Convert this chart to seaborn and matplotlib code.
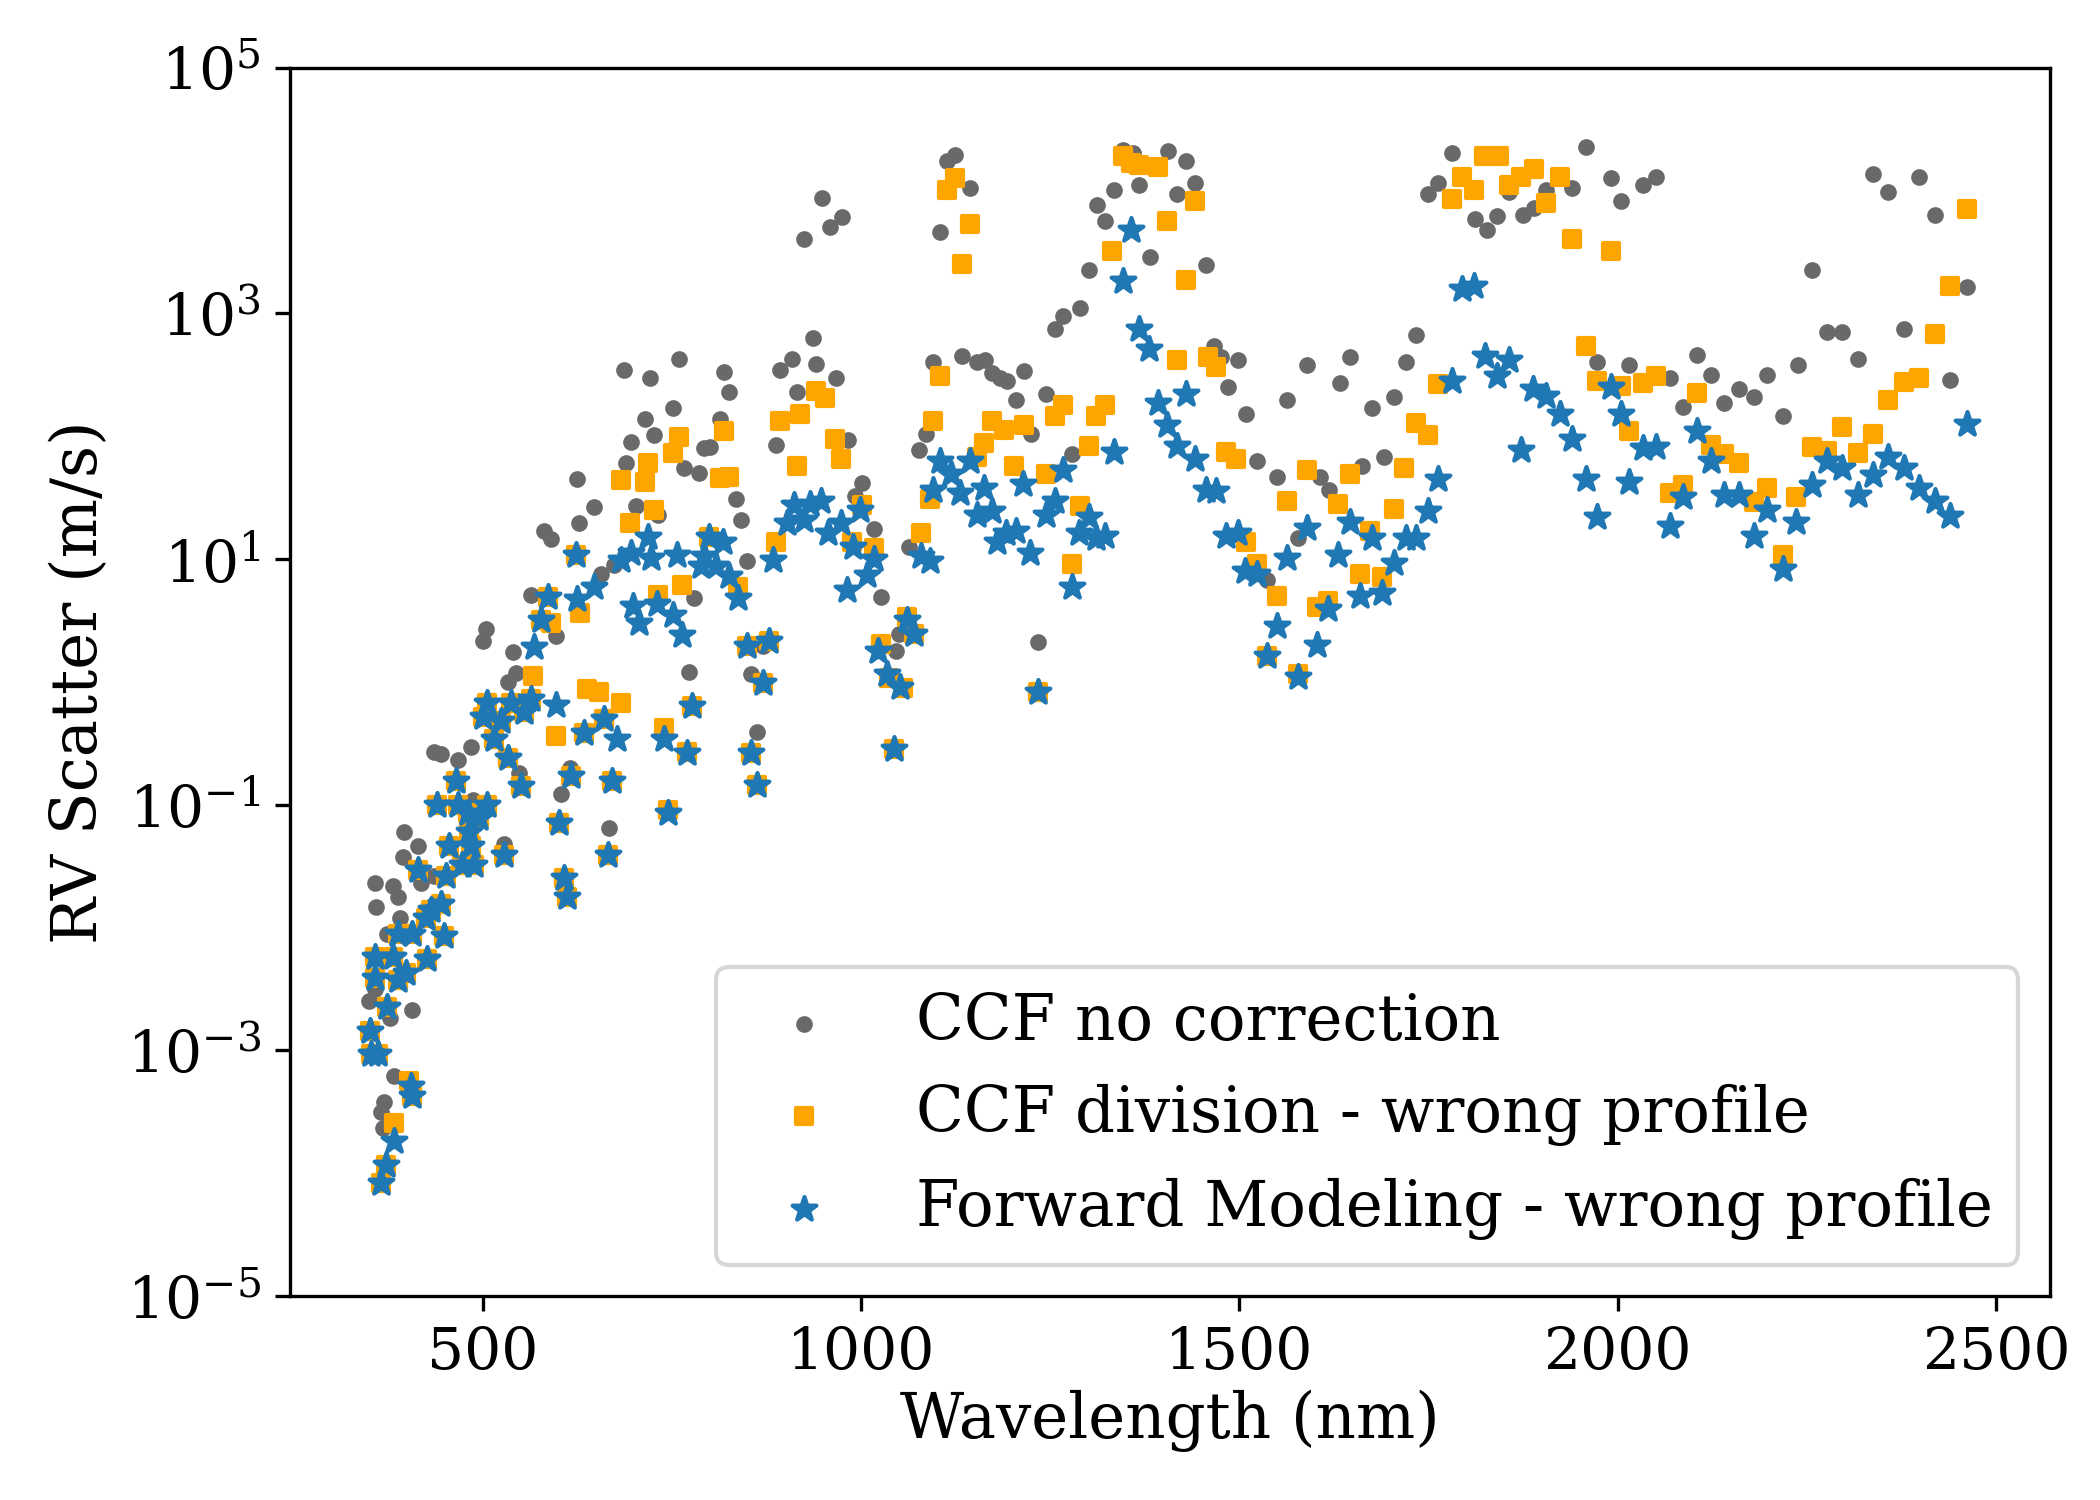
import numpy as np
import matplotlib
matplotlib.use("Agg")
import matplotlib.pyplot as plt
import seaborn as sns
from matplotlib.ticker import NullLocator, FixedLocator

# (wavelength nm, log10 of RV scatter in m/s)
ccf_points = [
    (350, -2.60), (357, -2.50), (357, -1.64), (359, -1.83), (366, -3.50), (368, -3.63),
    (370, -3.42), (374, -2.05), (377, -2.74), (381, -1.66), (383, -3.21), (388, -1.75),
    (390, -1.92), (394, -1.43), (396, -1.22), (407, -2.67), (414, -1.34), (418, -1.64),
    (436, -1.58), (436, -0.57), (445, -0.59), (467, -0.64), (484, -0.53), (487, -0.96),
    (500, 0.33), (504, 0.43), (528, -1.32), (533, 0.00), (540, 0.24), (544, 0.07),
    (548, -0.74), (564, 0.71), (581, 1.23), (590, 1.16), (597, 0.37), (603, -0.91),
    (616, -0.70), (624, 1.65), (627, 1.29), (647, 1.42), (656, 0.88), (667, -1.19),
    (674, 0.95), (687, 2.54), (689, 1.78), (696, 1.95), (703, 1.43), (714, 2.14),
    (721, 2.47), (727, 2.01), (732, 1.36), (752, 2.23), (759, 2.63), (766, 1.74),
    (772, 0.08), (779, 0.68), (786, 1.70), (792, 1.90), (801, 1.91), (813, 2.14),
    (819, 2.52), (826, 2.36), (835, 1.49), (842, 1.32), (849, 0.98), (855, 0.06),
    (862, -0.41), (871, 0.29), (887, 1.93), (893, 2.54), (909, 2.63), (916, 2.36),
    (925, 3.60), (936, 2.80), (940, 2.59), (948, 3.94), (959, 3.70), (967, 2.47),
    (975, 3.78), (983, 1.97), (992, 1.51), (1001, 1.62), (1017, 1.24), (1026, 0.69),
    (1046, 0.25), (1050, 0.39), (1064, 1.10), (1077, 1.89), (1086, 2.02), (1095, 2.60),
    (1104, 3.66), (1113, 4.24), (1124, 4.29), (1133, 2.65), (1144, 4.02), (1153, 2.60),
    (1164, 2.62), (1173, 2.51), (1184, 2.47), (1193, 2.45), (1205, 2.29), (1216, 2.53),
    (1225, 2.02), (1234, 0.32), (1245, 2.34), (1256, 2.87), (1267, 2.98), (1279, 1.85),
    (1290, 3.04), (1301, 3.35), (1312, 3.88), (1323, 3.75), (1335, 4.00), (1346, 4.33),
    (1359, 4.30), (1368, 4.04), (1382, 3.46), (1406, 4.32), (1418, 3.97), (1429, 4.24),
    (1442, 4.06), (1456, 3.39), (1467, 2.73), (1476, 2.64), (1485, 2.40), (1498, 2.62),
    (1509, 2.18), (1523, 1.80), (1536, 0.83), (1550, 1.67), (1563, 2.29), (1577, 1.17),
    (1590, 2.58), (1606, 1.67), (1619, 1.56), (1633, 2.43), (1646, 2.64), (1662, 1.76),
    (1675, 2.23), (1691, 1.83), (1704, 2.32), (1720, 2.60), (1733, 2.82), (1749, 3.97),
    (1763, 4.06), (1781, 4.30), (1794, 4.10), (1812, 3.77), (1828, 3.68), (1841, 3.79),
    (1857, 3.99), (1875, 3.80), (1890, 3.86), (1906, 4.00), (1940, 4.02), (1958, 4.35),
    (1973, 2.60), (1991, 4.10), (2004, 3.91), (2015, 2.58), (2033, 4.04), (2051, 4.11),
    (2069, 2.47), (2087, 2.24), (2105, 2.66), (2123, 2.50), (2141, 2.27), (2160, 2.38),
    (2180, 2.32), (2198, 2.50), (2218, 2.16), (2239, 2.58), (2257, 3.35), (2277, 2.85),
    (2297, 2.85), (2318, 2.63), (2338, 4.13), (2358, 3.99), (2379, 2.87), (2399, 4.11),
    (2420, 3.80), (2440, 2.46), (2462, 3.21),
]

div_points = [
    (351, -2.84), (352, -3.03), (357, -2.24), (357, -2.41), (361, -3.03), (366, -4.08),
    (372, -3.93), (374, -2.65), (381, -2.24), (383, -3.59), (388, -2.43), (388, -2.05),
    (398, -2.37), (403, -3.25), (407, -3.37), (407, -2.05), (414, -1.53), (425, -1.92),
    (427, -2.26), (432, -1.86), (440, -1.00), (445, -1.81), (449, -2.07), (451, -1.58),
    (456, -1.34), (465, -0.81), (467, -1.00), (473, -1.49), (480, -1.07), (482, -1.22),
    (484, -1.34), (489, -1.49), (495, -1.11), (500, -0.29), (506, -1.00), (506, -0.17),
    (515, -0.47), (524, -0.32), (528, -1.41), (533, -0.62), (537, -0.17), (550, -0.85),
    (555, -0.25), (564, -0.14), (566, 0.05), (577, 0.50), (586, 0.69), (590, 0.48),
    (597, -0.44), (601, -1.15), (608, -1.60), (612, -1.75), (617, -0.77), (623, 1.03),
    (628, 0.56), (634, -0.42), (638, -0.06), (654, -0.08), (660, -0.30), (665, -1.41),
    (671, -0.81), (683, 1.64), (683, -0.17), (694, 1.29), (714, 1.63), (718, 1.78),
    (727, 1.40), (732, 0.71), (739, -0.38), (745, -1.04), (752, 1.86), (759, 1.99),
    (763, 0.79), (770, -0.57), (777, -0.20), (799, 1.18), (813, 1.66), (819, 2.04),
    (826, 1.67), (837, 0.77), (849, 0.29), (855, -0.58), (862, -0.84), (871, -0.01),
    (878, 0.33), (887, 1.14), (893, 2.12), (916, 1.76), (920, 2.18), (940, 2.37),
    (952, 2.31), (965, 1.98), (974, 1.81), (988, 1.14), (1001, 1.44), (1017, 1.09),
    (1026, 0.31), (1037, 0.03), (1044, -0.55), (1055, -0.05), (1061, 0.53), (1070, 0.39),
    (1079, 1.21), (1091, 1.49), (1095, 2.12), (1104, 2.49), (1113, 4.00), (1124, 4.10),
    (1133, 3.40), (1144, 3.73), (1153, 1.83), (1162, 1.94), (1173, 2.12), (1189, 2.05),
    (1202, 1.76), (1216, 2.09), (1234, -0.08), (1245, 1.69), (1256, 2.16), (1267, 2.25),
    (1279, 0.96), (1290, 1.43), (1301, 1.92), (1310, 2.16), (1323, 2.25), (1332, 3.51),
    (1346, 4.28), (1357, 4.22), (1368, 4.21), (1393, 4.19), (1404, 3.75), (1418, 2.62),
    (1429, 3.27), (1442, 3.91), (1458, 2.64), (1469, 2.56), (1482, 1.87), (1496, 1.81),
    (1509, 1.14), (1523, 0.96), (1536, 0.21), (1550, 0.70), (1563, 1.47), (1577, 0.06),
    (1590, 1.72), (1603, 0.61), (1617, 0.66), (1630, 1.45), (1646, 1.69), (1659, 0.88),
    (1673, 1.23), (1689, 0.85), (1704, 1.41), (1718, 1.74), (1733, 2.11), (1749, 2.01),
    (1763, 2.42), (1781, 3.93), (1794, 4.11), (1810, 4.00), (1823, 4.28), (1843, 4.28),
    (1857, 4.04), (1872, 4.11), (1890, 4.17), (1906, 3.90), (1924, 4.11), (1940, 3.60),
    (1958, 2.73), (1973, 2.45), (1991, 3.51), (2004, 2.41), (2015, 2.04), (2033, 2.43),
    (2051, 2.49), (2069, 1.54), (2087, 1.60), (2105, 2.35), (2123, 1.93), (2141, 1.85),
    (2160, 1.78), (2180, 1.46), (2198, 1.58), (2218, 1.03), (2236, 1.50), (2257, 1.91),
    (2277, 1.88), (2297, 2.07), (2318, 1.86), (2338, 2.02), (2358, 2.29), (2379, 2.44),
    (2399, 2.47), (2420, 2.83), (2440, 3.22), (2462, 3.85),
]

fm_points = [
    (351, -2.84), (352, -3.03), (357, -2.24), (357, -2.41), (361, -3.03), (366, -4.08),
    (372, -3.93), (374, -2.65), (381, -2.24), (383, -3.74), (388, -2.43), (388, -2.05),
    (398, -2.37), (405, -3.29), (407, -3.37), (407, -2.05), (414, -1.53), (425, -1.92),
    (427, -2.26), (432, -1.86), (440, -1.00), (445, -1.81), (449, -2.07), (451, -1.58),
    (456, -1.34), (465, -0.81), (467, -1.00), (473, -1.49), (480, -1.07), (482, -1.22),
    (484, -1.34), (489, -1.49), (495, -1.11), (500, -0.29), (506, -1.00), (506, -0.17),
    (515, -0.47), (524, -0.32), (528, -1.41), (533, -0.62), (537, -0.17), (550, -0.85),
    (555, -0.25), (564, -0.14), (568, 0.28), (577, 0.50), (586, 0.69), (597, -0.19),
    (601, -1.15), (608, -1.60), (612, -1.75), (617, -0.77), (623, 1.03), (625, 0.67),
    (634, -0.42), (647, 0.77), (660, -0.30), (665, -1.41), (671, -0.81), (678, -0.47),
    (683, 0.99), (696, 1.05), (698, 0.62), (707, 0.48), (718, 1.18), (722, 1.01),
    (730, 0.63), (739, -0.47), (745, -1.07), (752, 0.54), (757, 1.03), (763, 0.38),
    (770, -0.58), (777, -0.20), (788, 0.94), (792, 1.02), (799, 1.18), (808, 0.94),
    (817, 1.14), (826, 0.86), (837, 0.68), (849, 0.29), (855, -0.58), (862, -0.84),
    (871, -0.01), (878, 0.33), (884, 0.99), (902, 1.29), (911, 1.44), (925, 1.32),
    (932, 1.45), (947, 1.47), (956, 1.21), (974, 1.29), (981, 0.75), (990, 1.10),
    (999, 1.40), (1008, 0.87), (1017, 1.00), (1023, 0.25), (1035, 0.06), (1044, -0.55),
    (1052, -0.04), (1061, 0.50), (1070, 0.39), (1079, 1.02), (1091, 0.98), (1095, 1.56),
    (1104, 1.80), (1119, 1.69), (1131, 1.54), (1144, 1.80), (1153, 1.36), (1162, 1.58),
    (1173, 1.39), (1180, 1.14), (1191, 1.21), (1205, 1.23), (1214, 1.61), (1223, 1.05),
    (1234, -0.08), (1245, 1.36), (1256, 1.47), (1267, 1.72), (1279, 0.77), (1288, 1.21),
    (1301, 1.34), (1310, 1.17), (1323, 1.19), (1335, 1.87), (1346, 3.26), (1357, 3.68),
    (1368, 2.87), (1380, 2.71), (1393, 2.27), (1404, 2.09), (1418, 1.92), (1429, 2.34),
    (1442, 1.81), (1456, 1.56), (1469, 1.55), (1483, 1.19), (1498, 1.21), (1507, 0.90),
    (1523, 0.88), (1536, 0.21), (1550, 0.45), (1563, 1.01), (1577, 0.04), (1590, 1.25),
    (1603, 0.30), (1617, 0.59), (1630, 1.03), (1646, 1.30), (1659, 0.70), (1675, 1.17),
    (1689, 0.72), (1704, 0.97), (1720, 1.17), (1733, 1.17), (1749, 1.39), (1763, 1.65),
    (1781, 2.45), (1794, 3.20), (1810, 3.22), (1825, 2.65), (1841, 2.49), (1857, 2.62),
    (1872, 1.89), (1888, 2.38), (1906, 2.33), (1924, 2.18), (1940, 1.98), (1958, 1.65),
    (1973, 1.34), (1991, 2.40), (2004, 2.18), (2015, 1.63), (2033, 1.90), (2051, 1.91),
    (2069, 1.27), (2087, 1.50), (2105, 2.04), (2123, 1.80), (2141, 1.52), (2160, 1.52),
    (2180, 1.19), (2198, 1.40), (2218, 0.92), (2236, 1.30), (2257, 1.60), (2277, 1.80),
    (2297, 1.74), (2318, 1.52), (2338, 1.68), (2358, 1.83), (2379, 1.74), (2399, 1.58),
    (2420, 1.47), (2440, 1.35), (2462, 2.10),
]

labels = ["CCF no correction", "CCF division - wrong profile",
          "Forward Modeling - wrong profile"]
y_ticks = [1e-5, 1e-3, 1e-1, 1e1, 1e3, 1e5]


def split(points):
    wl = np.array([p[0] for p in points], dtype=float)
    val = 10.0 ** np.array([p[1] for p in points])
    return wl, val


plt.rcParams["font.family"] = ["DejaVu Serif"]
plt.rcParams["mathtext.fontset"] = "dejavuserif"

fig, ax = plt.subplots(figsize=(7, 5), dpi=300)
fig.subplots_adjust(left=0.138, right=0.976, bottom=0.136, top=0.955)

x, y = split(ccf_points)
sns.scatterplot(x=x, y=y, marker=".", s=36, color="dimgray", edgecolor="dimgray",
                linewidth=1, label=labels[0], ax=ax, zorder=2)
x, y = split(div_points)
sns.scatterplot(x=x, y=y, marker="s", s=16, color="orange", edgecolor="orange",
                linewidth=1, label=labels[1], ax=ax, zorder=3)
x, y = split(fm_points)
sns.scatterplot(x=x, y=y, marker="*", s=36, color="#1f77b4", edgecolor="#1f77b4",
                linewidth=1, label=labels[2], ax=ax, zorder=4)

ax.set_yscale("log")
ax.set_ylim(1e-5, 1e5)
ax.set_xlim(245, 2571)
ax.yaxis.set_major_locator(FixedLocator(y_ticks))
ax.yaxis.set_minor_locator(NullLocator())
ax.set_xticks([500, 1000, 1500, 2000, 2500])
ax.tick_params(labelsize=14)

ax.set_xlabel("Wavelength (nm)", fontsize=15, labelpad=2)
ax.set_ylabel("RV Scatter (m/s)", fontsize=15)
ax.legend(loc="lower right", fontsize=15)

fig.savefig("out.png", dpi=300)
